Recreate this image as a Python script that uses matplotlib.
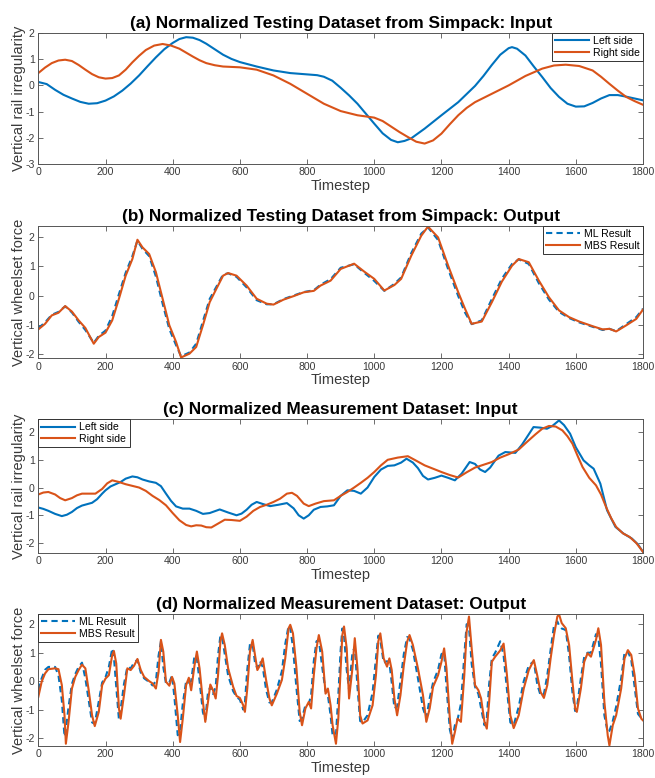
import numpy as np
import matplotlib
matplotlib.use('Agg')
import matplotlib.pyplot as plt

plt.rcParams['font.family'] = ['Liberation Sans', 'DejaVu Sans']
plt.rcParams['axes.unicode_minus'] = False

BLUE = '#0072BD'
ORANGE = '#D95319'

# (a) testing dataset input
t_a_left = [0, 25, 50, 75, 100, 125, 150, 175, 200, 225, 250, 275, 300, 325, 350, 375, 400, 420, 440, 460,
            480, 500, 525, 550, 575, 600, 650, 700, 750, 800, 830, 850, 875, 900, 925, 950, 975, 1000, 1025, 1050,
            1070, 1090, 1110, 1150, 1200, 1250, 1300, 1325, 1350, 1375, 1400, 1410, 1425, 1450, 1475, 1500, 1525, 1550, 1575, 1600,
            1625, 1650, 1675, 1700, 1725, 1750, 1775, 1800]
a_left = [0.13, 0.05, -0.17, -0.36, -0.5, -0.63, -0.7, -0.68, -0.58, -0.42, -0.2, 0.07, 0.38, 0.73, 1.07, 1.38, 1.62, 1.77, 1.84, 1.82,
          1.73, 1.59, 1.38, 1.17, 1.01, 0.89, 0.72, 0.57, 0.47, 0.42, 0.39, 0.33, 0.18, -0.09, -0.38, -0.7, -1.08, -1.46, -1.83, -2.08,
          -2.17, -2.12, -2.02, -1.65, -1.14, -0.64, -0.02, 0.36, 0.78, 1.17, 1.42, 1.46, 1.4, 1.14, 0.72, 0.32, -0.1, -0.44, -0.7, -0.81,
          -0.8, -0.67, -0.5, -0.37, -0.37, -0.43, -0.5, -0.57]
t_a_right = [0, 20, 40, 60, 80, 100, 120, 140, 160, 180, 200, 220, 240, 260, 280, 300, 320, 345, 370, 395,
             420, 440, 460, 480, 500, 525, 550, 600, 650, 700, 750, 800, 850, 900, 950, 1000, 1025, 1050, 1075, 1100,
             1125, 1150, 1175, 1200, 1225, 1250, 1275, 1300, 1350, 1400, 1450, 1500, 1535, 1570, 1610, 1650, 1675, 1700, 1725, 1750,
             1775, 1800]
a_right = [0.47, 0.68, 0.85, 0.95, 0.98, 0.93, 0.78, 0.6, 0.43, 0.31, 0.26, 0.28, 0.38, 0.6, 0.88, 1.13, 1.35, 1.52, 1.58, 1.52,
           1.4, 1.25, 1.1, 0.96, 0.85, 0.77, 0.72, 0.69, 0.6, 0.38, 0.06, -0.32, -0.7, -0.98, -1.14, -1.23, -1.36, -1.57, -1.78, -1.97,
           -2.15, -2.22, -2.1, -1.84, -1.48, -1.14, -0.86, -0.64, -0.32, 0.0, 0.36, 0.64, 0.76, 0.79, 0.74, 0.57, 0.33, 0.06, -0.2, -0.44,
           -0.6, -0.74]

# (b) testing dataset output
t_b = [0, 20, 40, 60, 80, 100, 120, 140, 165, 180, 200, 220, 240, 260, 280, 295, 310, 330, 350, 370,
       390, 410, 425, 450, 470, 490, 510, 530, 550, 565, 590, 620, 650, 680, 700, 730, 760, 790, 820, 840,
       870, 900, 940, 970, 1000, 1030, 1060, 1080, 1110, 1140, 1160, 1190, 1220, 1250, 1270, 1290, 1320, 1350, 1380, 1410,
       1430, 1460, 1490, 1520, 1550, 1580, 1610, 1650, 1680, 1700, 1720, 1750, 1780, 1800]
b_mbs = [-1.16, -0.97, -0.68, -0.59, -0.36, -0.55, -0.85, -1.11, -1.65, -1.42, -1.27, -0.85, -0.11, 0.68, 1.25, 1.91, 1.65, 1.42, 0.8, -0.11,
         -1.02, -1.59, -2.12, -1.99, -1.76, -1.02, -0.23, 0.23, 0.68, 0.77, 0.68, 0.34, -0.11, -0.28, -0.31, -0.14, -0.02, 0.11, 0.16, 0.34,
         0.51, 0.91, 1.09, 0.82, 0.57, 0.17, 0.36, 0.57, 1.36, 2.05, 2.36, 1.99, 1.02, 0.11, -0.45, -0.97, -0.89, -0.23, 0.48, 1.02,
         1.25, 1.14, 0.51, -0.06, -0.51, -0.74, -0.89, -1.05, -1.16, -1.14, -1.23, -1.02, -0.8, -0.48]
b_ml = [-1.12, -0.92, -0.66, -0.56, -0.37, -0.58, -0.9, -1.18, -1.62, -1.38, -1.2, -0.7, 0.05, 0.78, 1.35, 1.88, 1.6, 1.35, 0.65, -0.28,
        -1.15, -1.7, -2.08, -1.95, -1.65, -0.88, -0.12, 0.3, 0.72, 0.76, 0.64, 0.28, -0.16, -0.3, -0.3, -0.12, 0.0, 0.12, 0.18, 0.37,
        0.56, 0.95, 1.07, 0.78, 0.5, 0.16, 0.4, 0.62, 1.45, 2.12, 2.33, 1.9, 0.9, -0.02, -0.58, -0.98, -0.85, -0.12, 0.58, 1.08,
        1.24, 1.08, 0.42, -0.14, -0.56, -0.77, -0.92, -1.07, -1.18, -1.14, -1.22, -0.98, -0.74, -0.45]

# (c) measurement dataset input
t_c_left = [0, 15, 30, 50, 70, 85, 100, 115, 130, 145, 160, 175, 190, 200, 215, 230, 245, 260, 280, 295,
            310, 330, 350, 365, 380, 395, 410, 430, 450, 470, 490, 510, 540, 565, 590, 605, 620, 635, 650, 670,
            690, 715, 740, 760, 775, 790, 805, 820, 840, 860, 880, 900, 920, 940, 960, 980, 1000, 1020, 1040, 1060,
            1080, 1096, 1115, 1130, 1145, 1160, 1180, 1200, 1220, 1240, 1260, 1284, 1300, 1315, 1330, 1345, 1370, 1390, 1420, 1440,
            1474, 1494, 1514, 1530, 1550, 1565, 1583, 1600, 1623, 1640, 1653, 1673, 1693, 1718, 1742, 1767, 1785, 1800]
c_left = [-0.72, -0.77, -0.84, -0.95, -1.03, -0.98, -0.88, -0.74, -0.65, -0.6, -0.55, -0.42, -0.22, -0.1, 0.04, 0.12, 0.2, 0.32, 0.4, 0.37,
          0.29, 0.22, 0.17, 0.05, -0.22, -0.48, -0.68, -0.76, -0.76, -0.84, -0.95, -0.92, -0.79, -0.9, -1.0, -0.94, -0.8, -0.62, -0.52, -0.6,
          -0.67, -0.62, -0.56, -0.75, -1.0, -1.12, -1.0, -0.8, -0.7, -0.68, -0.64, -0.3, -0.1, -0.12, -0.22, 0.0, 0.38, 0.65, 0.78, 0.8,
          0.9, 1.04, 0.9, 0.7, 0.42, 0.29, 0.35, 0.43, 0.35, 0.26, 0.5, 0.92, 0.85, 0.65, 0.56, 0.72, 1.15, 1.28, 1.25, 1.55,
          2.18, 2.16, 2.12, 2.22, 2.42, 2.25, 1.94, 1.45, 0.98, 0.8, 0.68, 0.14, -0.82, -1.42, -1.66, -1.84, -2.05, -2.32]
t_c_right = [0, 15, 30, 50, 65, 80, 100, 115, 130, 150, 170, 190, 205, 220, 240, 260, 280, 300, 320, 340,
             360, 380, 400, 420, 440, 455, 470, 485, 500, 515, 535, 555, 575, 600, 620, 640, 660, 680, 700, 720,
             740, 755, 770, 790, 805, 825, 850, 880, 900, 920, 940, 960, 980, 1000, 1020, 1040, 1070, 1100, 1120, 1150,
             1175, 1200, 1225, 1250, 1275, 1300, 1325, 1350, 1375, 1400, 1430, 1455, 1480, 1500, 1520, 1540, 1560, 1575, 1590, 1605,
             1620, 1640, 1660, 1675, 1690, 1705, 1720, 1740, 1760, 1780, 1800]
c_right = [-0.25, -0.18, -0.16, -0.25, -0.38, -0.46, -0.38, -0.28, -0.22, -0.22, -0.22, -0.05, 0.15, 0.26, 0.2, 0.12, 0.06, 0.0, -0.12, -0.3,
           -0.45, -0.64, -0.92, -1.18, -1.35, -1.4, -1.36, -1.37, -1.43, -1.44, -1.3, -1.16, -1.17, -1.2, -1.05, -0.84, -0.7, -0.62, -0.52, -0.4,
           -0.22, -0.19, -0.3, -0.58, -0.67, -0.58, -0.49, -0.46, -0.3, -0.16, 0.0, 0.17, 0.35, 0.56, 0.8, 1.0, 1.08, 1.13, 1.0, 0.8,
           0.68, 0.56, 0.45, 0.36, 0.55, 0.72, 0.82, 0.92, 1.08, 1.2, 1.37, 1.65, 1.92, 2.12, 2.22, 2.2, 2.06, 1.85, 1.58, 1.15,
           0.74, 0.35, 0.08, -0.25, -0.7, -1.1, -1.42, -1.65, -1.78, -2.0, -2.32]

# (d) measurement dataset output
t_d = [0, 10, 20, 30, 50, 60, 70, 78, 82, 90,
       100, 110, 120, 130, 140, 150, 160, 168, 180, 190,
       200, 210, 220, 225, 232, 240, 245, 255, 265, 275,
       285, 295, 305, 315, 330, 340, 350, 358, 365, 372,
       380, 390, 398, 405, 415, 422, 430, 440, 448, 455,
       465, 472, 480, 490, 497, 505, 512, 520, 528, 535,
       542, 547, 555, 565, 580, 590, 600, 610, 615, 622,
       630, 638, 645, 652, 660, 668, 678, 688, 695, 710,
       725, 735, 745, 750, 758, 768, 778, 785, 795, 805,
       812, 820, 828, 835, 845, 855, 862, 870, 876, 886,
       893, 900, 905, 910, 918, 925, 935, 942, 950, 958,
       965, 980, 995, 1005, 1012, 1018, 1028, 1038, 1045, 1052,
       1060, 1068, 1078, 1088, 1098, 1105, 1115, 1130, 1145, 1155,
       1165, 1175, 1190, 1200, 1208, 1215, 1225, 1232, 1240, 1248,
       1258, 1268, 1275, 1282, 1290, 1300, 1310, 1318, 1328, 1335,
       1342, 1350, 1360, 1375, 1385, 1395, 1405, 1415, 1430, 1445,
       1460, 1475, 1485, 1495, 1505, 1515, 1525, 1535, 1545, 1550,
       1558, 1570, 1580, 1590, 1598, 1603, 1615, 1625, 1635, 1645,
       1660, 1667, 1675, 1685, 1695, 1700, 1710, 1720, 1735, 1745,
       1755, 1765, 1775, 1785, 1795, 1800]
d_mbs = [-0.55, -0.02, 0.27, 0.42, 0.45, 0.42, -0.14, -1.2, -2.2, -1.43,
         -0.26, 0.15, 0.39, 0.58, 0.45, -0.32, -1.2, -1.58, -1.08, -0.14,
         0.09, 0.21, 0.92, 1.06, 0.62, -0.96, -1.32, -0.49, 0.45, 0.39,
         0.54, 0.78, 0.39, 0.15, 0.0, -0.08, -0.26, 0.33, 1.45, 1.04,
         -0.02, -0.16, 0.15, -0.08, -1.2, -2.14, -1.32, -0.14, 0.12, -0.32,
         0.56, 1.04, 0.45, -0.73, -1.43, -0.73, -0.12, -0.32, -0.61, 0.21,
         1.39, 1.68, 1.27, 0.45, -0.2, -0.52, -0.59, -0.85, -1.08, -0.26,
         1.04, 1.45, 0.92, 0.39, 0.56, 0.8, 0.04, -0.61, -0.85, -0.44,
         0.04, 0.8, 1.86, 1.98, 1.68, 0.51, -1.08, -1.55, -0.96, -0.73,
         -0.96, 0.21, 1.15, 1.62, 1.04, -0.44, -0.26, -0.85, -1.55, -2.2,
         -1.32, 0.45, 1.62, 1.92, 1.15, -0.61, 0.45, 1.51, 0.45, -1.2,
         -1.49, -1.38, -0.85, 0.21, 1.39, 1.68, 0.8, 0.51, 0.8, 0.39,
         -0.61, -1.2, -0.49, 0.56, 1.39, 1.62, 1.27, 0.45, -0.49, -1.43,
         -0.96, -0.2, 0.21, 0.68, 1.15, 0.45, -1.32, -2.2, -1.79, -1.32,
         -1.43, 0.21, 1.74, 2.27, 1.15, -0.14, -0.32, -0.61, -1.43, -1.67,
         -0.73, 0.68, 0.86, 1.08, 1.32, 0.21, -1.2, -1.65, -1.2, -0.26,
         0.39, 0.74, 0.21, -0.38, -0.59, -0.14, 0.8, 1.62, 2.27, 2.35,
         2.04, 1.86, 1.27, -0.02, -0.96, -1.08, -0.26, 0.68, 0.98, 0.86,
         1.45, 1.86, 1.27, -0.73, -1.91, -2.26, -1.55, -1.2, -0.26, 0.8,
         1.09, 0.92, 0.21, -0.96, -1.32, -1.38]
d_ml = [-0.3, 0.1, 0.4, 0.5, 0.5, 0.2, -0.67, -1.95, -1.7, -0.9,
        -0.1, 0.25, 0.5, 0.65, 0.1, -0.67, -1.45, -1.5, -0.7, -0.05,
        0.14, 0.5, 1.15, 0.85, -0.2, -1.35, -1.0, -0.1, 0.5, 0.45,
        0.65, 0.75, 0.3, 0.1, -0.03, -0.15, 0.0, 0.9, 1.4, 0.5,
        -0.08, -0.05, 0.2, -0.55, -1.9, -1.75, -0.8, 0.0, -0.05, 0.0,
        0.9, 0.8, 0.0, -1.1, -1.35, -0.4, -0.2, -0.45, -0.2, 0.9,
        1.6, 1.55, 0.95, 0.2, -0.35, -0.55, -0.65, -1.0, -0.75, 0.4,
        1.3, 1.3, 0.65, 0.45, 0.7, 0.5, -0.3, -0.75, -0.75, -0.3,
        0.35, 1.3, 1.95, 1.85, 1.2, -0.2, -1.4, -1.3, -0.85, -0.8,
        -0.5, 0.7, 1.4, 1.45, 0.5, -0.35, -0.5, -1.2, -1.9, -1.9,
        -0.5, 1.1, 1.85, 1.6, 0.4, -0.3, 1.0, 1.2, -0.2, -1.4,
        -1.45, -1.2, -0.4, 0.8, 1.6, 1.45, 0.65, 0.7, 0.65, -0.05,
        -0.95, -0.9, 0.0, 0.95, 1.55, 1.5, 1.1, 0.1, -0.95, -1.3,
        -0.6, -0.05, 0.4, 0.95, 1.0, -0.2, -1.7, -2.05, -1.55, -1.35,
        -0.8, 0.9, 2.0, 1.9, 0.6, -0.2, -0.45, -0.95, -1.55, -1.3,
        -0.1, 0.8, 1.0, 1.4, 0.9, -0.3, -1.45, -1.55, -0.9, 0.0,
        0.55, 0.7, -0.1, -0.5, -0.45, 0.2, 1.1, 1.95, 2.1, 1.95,
        1.85, 1.8, 0.9, -0.4, -1.05, -0.95, 0.1, 0.85, 1.0, 1.0,
        1.65, 1.55, 0.6, -1.2, -1.8, -1.75, -1.4, -0.9, 0.1, 1.0,
        1.05, 0.75, -0.2, -1.15, -1.3, -1.3]

titles = ['(a) Normalized Testing Dataset from Simpack: Input',
          '(b) Normalized Testing Dataset from Simpack: Output',
          '(c) Normalized Measurement Dataset: Input',
          '(d) Normalized Measurement Dataset: Output']

fig = plt.figure(figsize=(6.55, 7.78), dpi=100)
left, width = 0.0585, 0.9232
axes = [fig.add_axes([left, 0.7892, width, 0.1684]),
        fig.add_axes([left, 0.5398, width, 0.1697]),
        fig.add_axes([left, 0.2892, width, 0.1722]),
        fig.add_axes([left, 0.0411, width, 0.1697])]


def style(ax, title, ylabel, ylim, yticks):
    ax.set_xlim(0, 1800)
    ax.set_ylim(*ylim)
    ax.set_xticks(np.arange(0, 1801, 200))
    ax.set_yticks(yticks)
    ax.tick_params(direction='in', top=True, right=True, length=3.5, width=0.6,
                   colors='#555555', labelcolor='#3a3a3a', labelsize=7.6, pad=2.5)
    for s in ax.spines.values():
        s.set_color('#555555')
        s.set_linewidth(0.7)
    ax.set_title(title, fontsize=12.4, fontweight='bold', pad=3.5)
    ax.set_xlabel('Timestep', fontsize=10.5, color='#3a3a3a', labelpad=1)
    ax.set_ylabel(ylabel, fontsize=10.5, color='#3a3a3a')
    ax.yaxis.set_label_coords(-0.021, 0.5)


def legend(ax, loc):
    leg = ax.legend(loc=loc, fontsize=7.6, frameon=True, fancybox=False, edgecolor='#333333',
                    framealpha=1, borderaxespad=0, handlelength=3.2, borderpad=0.3,
                    labelspacing=0.15, handletextpad=0.4)
    leg.get_frame().set_linewidth(0.7)


ax = axes[0]
ax.plot(t_a_left, a_left, color=BLUE, lw=1.5, label='Left side')
ax.plot(t_a_right, a_right, color=ORANGE, lw=1.5, label='Right side')
style(ax, titles[0], 'Vertical rail irregularity', (-3, 2), [-3, -2, -1, 0, 1, 2])
legend(ax, 'upper right')

ax = axes[1]
ax.plot(t_b, b_ml, color=BLUE, lw=1.5, ls=(0, (3, 2)), label='ML Result')
ax.plot(t_b, b_mbs, color=ORANGE, lw=1.5, label='MBS Result')
style(ax, titles[1], 'Vertical wheelset force', (-2.14, 2.38), [-2, -1, 0, 1, 2])
legend(ax, 'upper right')

ax = axes[2]
ax.plot(t_c_left, c_left, color=BLUE, lw=1.5, label='Left side')
ax.plot(t_c_right, c_right, color=ORANGE, lw=1.5, label='Right side')
style(ax, titles[2], 'Vertical rail irregularity', (-2.36, 2.47), [-2, -1, 0, 1, 2])
legend(ax, 'upper left')

ax = axes[3]
ax.plot(t_d, d_ml, color=BLUE, lw=1.5, ls=(0, (3, 2)), label='ML Result')
ax.plot(t_d, d_mbs, color=ORANGE, lw=1.5, label='MBS Result')
style(ax, titles[3], 'Vertical wheelset force', (-2.28, 2.36), [-2, -1, 0, 1, 2])
legend(ax, 'upper left')

fig.savefig('out.png', dpi=100)
